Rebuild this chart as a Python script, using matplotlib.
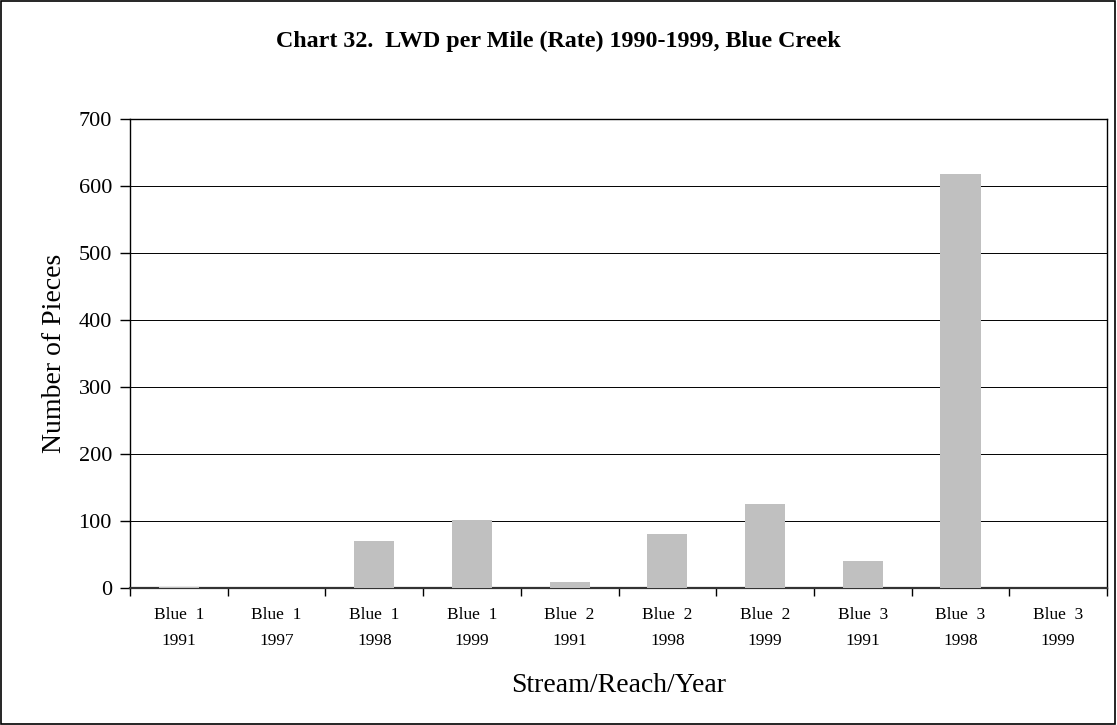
import matplotlib
matplotlib.use("Agg")
import matplotlib.pyplot as plt
from matplotlib.patches import Rectangle
import numpy as np

plt.rcParams['font.family'] = ['Liberation Serif', 'DejaVu Serif']

categories = ["Blue  1\n1991", "Blue  1\n1997", "Blue  1\n1998", "Blue  1\n1999",
              "Blue  2\n1991", "Blue  2\n1998", "Blue  2\n1999",
              "Blue  3\n1991", "Blue  3\n1998", "Blue  3\n1999"]
values = [2, 0, 70, 102, 9, 81, 126, 41, 618, 0]
yticks = [0, 100, 200, 300, 400, 500, 600, 700]

fig = plt.figure(figsize=(11.17, 7.25), dpi=100)
fig.patches.append(Rectangle((0.001, 0.002), 0.997, 0.996, transform=fig.transFigure,
                             fill=False, edgecolor='black', linewidth=1.2))

ax = fig.add_axes([0.1164, 0.189, 0.8747, 0.647])
x = np.arange(len(categories))
ax.bar(x, values, width=0.41, color='#c0c0c0', zorder=3)

ax.set_xlim(-0.5, len(categories) - 0.5)
ax.set_ylim(0, 700)
ax.set_yticks(yticks)
ax.tick_params(axis='y', labelsize=16, direction='out', length=7, width=1, pad=6)
ax.yaxis.grid(True, color='black', linewidth=0.7, zorder=0)

ax.set_xticks(x)
ax.set_xticklabels(categories, fontsize=12.5, linespacing=1.8)
ax.tick_params(axis='x', which='major', length=0, pad=14)
ax.set_xticks(np.arange(-0.5, len(categories) + 0.5, 1.0), minor=True)
ax.tick_params(axis='x', which='minor', length=6, width=1, direction='out')

for side in ['top', 'right', 'left']:
    ax.spines[side].set_linewidth(1.0)
ax.spines['bottom'].set_linewidth(1.6)
ax.spines['bottom'].set_color('#333333')

ax.set_ylabel("Number of Pieces", fontsize=20, labelpad=8)
ax.set_xlabel("Stream/Reach/Year", fontsize=20, labelpad=17)
fig.text(0.5, 0.943, "Chart 32.  LWD per Mile (Rate) 1990-1999, Blue Creek",
         ha='center', va='center', fontsize=17.3, fontweight='bold')

fig.savefig("out.png", dpi=100)
